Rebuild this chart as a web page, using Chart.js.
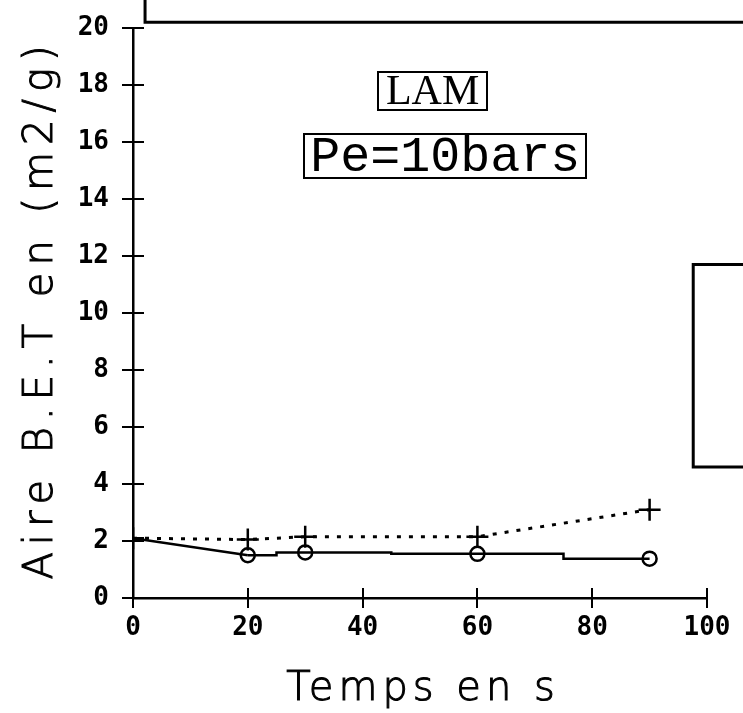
<!DOCTYPE html>
<html>
<head>
<meta charset="utf-8">
<script src="https://cdn.jsdelivr.net/npm/chart.js@4.4.0/dist/chart.umd.min.js"></script>
<style>
    html, body { margin: 0; padding: 0; background: #fff; }
    #wrap { width: 743px; height: 713px; }
</style>
</head>
<body>
<div id="wrap"><canvas id="myChart"></canvas></div>
<script>
// sampling times (s) and BET surface area (m2/g)
const times = [0, 20, 30, 60, 90];
const crossValues = [2.1, 2.05, 2.15, 2.15, 3.1];
const circleValues = [2.1, 1.5, 1.6, 1.55, 1.38];

const xTicks = [0, 20, 40, 60, 80, 100];
const yTicks = [0, 2, 4, 6, 8, 10, 12, 14, 16, 18, 20];

const xTitle = 'Temps en s';
const yTitle = 'Aire B.E.T en (m2/g)';
const caseLabel = 'LAM';
const pressureLabel = 'Pe=10bars';

// label anchors and frame corners, in axis units
const caseAnchor = { x: 52.2, y: 17.8 };
const pressureAnchor = { x: 54.4, y: 15.5 };
const topFrame = { x: 2.1, y: 20.2 };
const sideFrame = { x: 97.6, top: 11.7, bottom: 4.6 };

const toPoints = (xs, ys) => xs.map((x, i) => ({ x: x, y: ys[i] }));

const ink = '#000';
const tickFont = { family: 'DejaVu Sans Mono', size: 26, weight: 'bold' };

const decorations = {
    id: 'decorations',
    afterDraw(chart) {
        const ctx = chart.ctx;
        const xs = chart.scales.x;
        const ys = chart.scales.y;
        const area = chart.chartArea;
        ctx.save();
        ctx.strokeStyle = ink;
        ctx.fillStyle = ink;

        // ticks crossing both axes
        ctx.lineWidth = 2;
        ctx.beginPath();
        yTicks.forEach(v => {
            const py = Math.round(ys.getPixelForValue(v));
            ctx.moveTo(area.left - 11, py);
            ctx.lineTo(area.left + 11, py);
        });
        xTicks.forEach(v => {
            const px = Math.round(xs.getPixelForValue(v));
            ctx.moveTo(px, area.bottom - 10);
            ctx.lineTo(px, area.bottom + 10);
        });
        ctx.stroke();

        // open frames running off the page edges
        ctx.lineWidth = 3;
        const tx = xs.getPixelForValue(topFrame.x);
        const ty = ys.getPixelForValue(topFrame.y);
        ctx.beginPath();
        ctx.moveTo(tx, -5);
        ctx.lineTo(tx, ty);
        ctx.lineTo(chart.width + 5, ty);
        ctx.stroke();

        const sx = xs.getPixelForValue(sideFrame.x);
        const st = ys.getPixelForValue(sideFrame.top);
        const sb = ys.getPixelForValue(sideFrame.bottom);
        ctx.beginPath();
        ctx.moveTo(chart.width + 5, st);
        ctx.lineTo(sx, st);
        ctx.lineTo(sx, sb);
        ctx.lineTo(chart.width + 5, sb);
        ctx.stroke();

        // boxed labels
        const boxed = (text, font, anchor, padX, h) => {
            ctx.font = font;
            const w = ctx.measureText(text).width + 2 * padX;
            const cx = xs.getPixelForValue(anchor.x);
            const cy = ys.getPixelForValue(anchor.y);
            ctx.lineWidth = 2;
            ctx.strokeRect(Math.round(cx - w / 2), Math.round(cy - h / 2), Math.round(w), h);
            ctx.textAlign = 'center';
            ctx.textBaseline = 'middle';
            ctx.fillText(text, cx, cy + 2);
        };
        boxed(caseLabel, '42px "Liberation Serif"', caseAnchor, 8, 38);
        boxed(pressureLabel, '50px "Liberation Mono"', pressureAnchor, 6, 44);

        // axis titles: light face, thickened a little with a thin outline
        const title = (text, x, y) => {
            ctx.fillText(text, x, y);
            ctx.strokeText(text, x, y);
        };
        ctx.textAlign = 'center';
        ctx.textBaseline = 'alphabetic';
        ctx.font = '200 40px "DejaVu Sans"';
        ctx.lineWidth = 1;
        ctx.letterSpacing = '5px';
        title(xTitle, (area.left + area.right) / 2 + 3, 700);

        ctx.letterSpacing = '7px';
        ctx.translate(52, (area.top + area.bottom) / 2);
        ctx.rotate(-Math.PI / 2);
        title(yTitle, 4, 0);
        ctx.restore();
    }
};

const ctx = document.getElementById('myChart');

new Chart(ctx, {
    type: 'line',
    data: {
        datasets: [
            {
                label: 'plus',
                data: toPoints(times, crossValues),
                borderColor: ink,
                borderWidth: 3,
                borderDash: [4, 8],
                pointStyle: 'cross',
                pointRadius: 11,
                pointBorderWidth: 2.5,
                pointBorderColor: ink,
                fill: false
            },
            {
                label: 'circle-lead',
                data: toPoints(times.slice(0, 2), circleValues.slice(0, 2)),
                borderColor: ink,
                borderWidth: 2.5,
                pointRadius: 0,
                fill: false
            },
            {
                label: 'circle',
                data: toPoints(times.slice(1), circleValues.slice(1)),
                borderColor: ink,
                borderWidth: 2.5,
                stepped: 'middle',
                pointStyle: 'circle',
                pointRadius: 7,
                pointBorderWidth: 2.5,
                pointBorderColor: ink,
                pointBackgroundColor: 'rgba(0,0,0,0)',
                fill: false
            }
        ]
    },
    options: {
        responsive: true,
        maintainAspectRatio: false,
        animation: false,
        layout: { padding: { left: 60, right: 36, top: 28, bottom: 0 } },
        plugins: {
            legend: { display: false },
            tooltip: { enabled: false }
        },
        scales: {
            x: {
                type: 'linear',
                min: 0,
                max: 100,
                afterBuildTicks: scale => { scale.ticks = xTicks.map(v => ({ value: v })); },
                afterFit: scale => {
                    scale.height = 115;
                    scale.paddingLeft = 0;
                    scale.paddingRight = 0;
                },
                grid: { display: false, drawTicks: false },
                border: { display: true, color: ink, width: 2.5 },
                ticks: { color: ink, font: tickFont, padding: 15, maxRotation: 0 }
            },
            y: {
                type: 'linear',
                min: 0,
                max: 20,
                afterBuildTicks: scale => { scale.ticks = yTicks.map(v => ({ value: v })); },
                afterFit: scale => {
                    scale.width = 73;
                    scale.paddingTop = 0;
                    scale.paddingBottom = 0;
                },
                grid: { display: false, drawTicks: false },
                border: { display: true, color: ink, width: 2.5 },
                ticks: { color: ink, font: tickFont, padding: 24 }
            }
        }
    },
    plugins: [decorations]
});
</script>
</body>
</html>
